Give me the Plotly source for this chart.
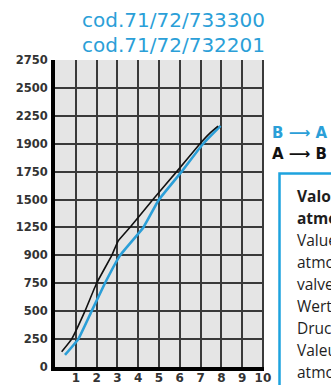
import numpy as np
import plotly.graph_objects as go

# Pressure scale printed on the vertical axis (evenly spaced rows)
y_tick_values = [0, 250, 500, 750, 900, 1250, 1500, 1750, 1900, 2250, 2500, 2750]
y_tick_labels = [str(v) for v in y_tick_values]
x_tick_values = list(range(1, 11))

# Flow direction A -> B (black)
ab_x = [0.32, 0.80, 1.44, 2.00, 2.73, 3.04, 3.60, 4.71, 5.85, 6.97, 7.45, 7.84]
ab_y = [137, 250, 500, 750, 900, 1082, 1250, 1500, 1750, 1900, 2033, 2120]

# Flow direction B -> A (blue)
ba_x = [0.48, 1.12, 1.76, 2.40, 3.13, 4.25, 5.00, 6.09, 7.12, 7.96]
ba_y = [108, 250, 500, 750, 900, 1250, 1500, 1750, 1900, 2125]

title_lines = ["cod.71/72/733300", "cod.71/72/732201"]
legend_labels = ["B \u27F6 A", "A \u27F6 B"]
note_lines = [
    ("Valori a pressione", True),
    ("atmosferica", True),
    ("Values at", False),
    ("atmospheric pressure", False),
    ("valve closed", False),
    ("Werte bei", False),
    ("Druck atmosph\u00e4risch", False),
    ("Valeurs \u00e0 pression", False),
    ("atmosph\u00e9rique", False),
]

BLUE = "#2b9fd8"
W, H = 331, 385
L, R, T, B = 55, 67, 60, 18
PW, PH = W - L - R, H - T - B

row_pos = list(range(len(y_tick_values)))


def to_row(vals):
    # place pressures on the evenly spaced printed rows
    return np.interp(vals, y_tick_values, row_pos)


def px_x(px):
    return (px - L) / PW


def px_y(py):
    return (H - B - py) / PH


fig = go.Figure()
fig.add_trace(go.Scatter(
    x=ba_x, y=to_row(ba_y), mode="lines",
    line=dict(color=BLUE, width=2.6, shape="spline", smoothing=0.3),
    hoverinfo="skip", showlegend=False))
fig.add_trace(go.Scatter(
    x=ab_x, y=to_row(ab_y), mode="lines",
    line=dict(color="#111111", width=1.6, shape="spline", smoothing=0.3),
    hoverinfo="skip", showlegend=False))

annotations = []
for i, t in enumerate(title_lines):
    annotations.append(dict(
        text=t, xref="paper", yref="paper", x=px_x(173.5), y=px_y(20 + 25 * i),
        xanchor="center", yanchor="middle", showarrow=False,
        font=dict(family="DejaVu Sans", size=20, color=BLUE)))

for i, (t, c) in enumerate(zip(legend_labels, [BLUE, "#111111"])):
    annotations.append(dict(
        text=t, xref="paper", yref="paper", x=px_x(270), y=px_y(133 + 21 * i),
        xanchor="left", yanchor="middle", showarrow=False,
        font=dict(family="DejaVu Sans", size=15, color=c, weight="bold")))

for i, (t, bold) in enumerate(note_lines):
    annotations.append(dict(
        text=t, xref="paper", yref="paper", x=px_x(295), y=px_y(196 + 22 * i),
        xanchor="left", yanchor="middle", showarrow=False,
        font=dict(family="Open Sans", size=15.5, color="#1e1e1e",
                  weight="bold" if bold else "normal")))

shapes = [dict(
    type="rect", xref="paper", yref="paper",
    x0=px_x(279.5), x1=px_x(360), y0=px_y(420), y1=px_y(173.5),
    line=dict(color="#1ea3de", width=2.5), fillcolor="white", layer="below")]

fig.update_layout(
    width=W, height=H,
    margin=dict(l=L, r=R, t=T, b=B, pad=0, autoexpand=False),
    paper_bgcolor="white", plot_bgcolor="#e5e5e5",
    annotations=annotations, shapes=shapes,
    xaxis=dict(
        range=[0, 10.05], tickvals=x_tick_values, ticktext=[str(v) for v in x_tick_values],
        showgrid=True, gridcolor="#3a3a3a", gridwidth=1.6,
        showline=True, linecolor="#000000", linewidth=4,
        ticks="", ticklabelstandoff=-3,
        tickfont=dict(family="DejaVu Sans", size=12, color="#333333", weight="bold"),
        zeroline=False, fixedrange=True, automargin=False),
    yaxis=dict(
        range=[0, 11], tickvals=row_pos, ticktext=y_tick_labels,
        showgrid=True, gridcolor="#3a3a3a", gridwidth=1.6,
        showline=True, linecolor="#000000", linewidth=4,
        ticks="outside", ticklen=1, tickcolor="rgba(0,0,0,0)",
        tickfont=dict(family="DejaVu Sans", size=11.5, color="#333333", weight="bold"),
        zeroline=False, fixedrange=True, automargin=False),
)

fig.write_html("out.html", config={"displayModeBar": False})
